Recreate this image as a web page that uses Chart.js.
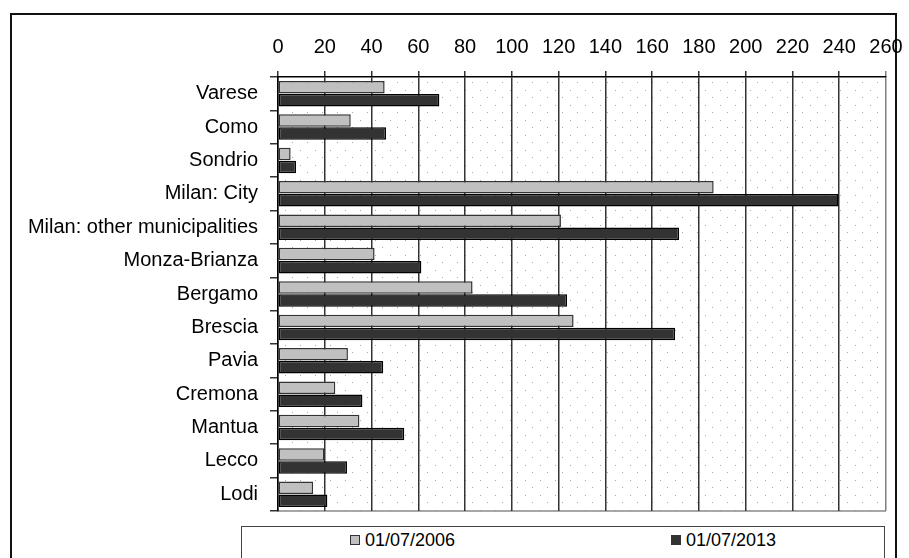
<!DOCTYPE html>
<html>
<head>
<meta charset="utf-8">
<script src="https://cdn.jsdelivr.net/npm/chart.js@4"></script>
<style>
  html, body { margin: 0; padding: 0; background: #fff; overflow: hidden; }
  #frame { position: absolute; left: 10px; top: 13px; width: 887px; height: 560px;
           border: 2px solid #111; box-sizing: border-box; }
  #wrap { position: absolute; left: 0; top: 0; width: 909px; height: 558px; }
  #legend { position: absolute; left: 241px; top: 526px; width: 644px; height: 34px;
            border: 1.5px solid #444; box-sizing: border-box; display: flex;
            justify-content: space-around; align-items: flex-start; padding-top: 3px;
            font: 18px "Liberation Sans", Arial, sans-serif; color: #000; background: #fff; }
  #legend span.sw { display: inline-block; width: 8px; height: 8px; border: 1px solid #333;
                    margin-right: 5px; vertical-align: 1px; }
</style>
</head>
<body>
<div id="frame"></div>
<div id="wrap"><canvas id="chart" width="909" height="558"></canvas></div>
<div id="legend">
  <div><span class="sw" style="background:#c0c0c0"></span>01/07/2006</div>
  <div><span class="sw" style="background:#333333"></span>01/07/2013</div>
</div>
<script>
// data
const provinces = ["Varese", "Como", "Sondrio", "Milan: City", "Milan: other municipalities",
  "Monza-Brianza", "Bergamo", "Brescia", "Pavia", "Cremona", "Mantua", "Lecco", "Lodi"];
const y2006 = [45.6, 31.1, 5.4, 186.3, 121.0, 41.3, 83.2, 126.4, 29.9, 24.5, 34.8, 19.8, 15.0];
const y2013 = [69.0, 46.2, 7.7, 239.7, 171.5, 61.3, 123.6, 169.8, 45.0, 36.1, 54.0, 29.5, 21.1];
const seriesNames = ["01/07/2006", "01/07/2013"];
const xMax = 260;
const xStep = 20;

function dotPattern() {
    const c = document.createElement('canvas');
    c.width = 15; c.height = 15;
    const g = c.getContext('2d');
    g.fillStyle = '#fff';
    g.fillRect(0, 0, 15, 15);
    g.fillStyle = '#a8a8a8';
    g.fillRect(0, 0, 1, 1);
    g.fillRect(7, 7, 1, 1);
    return g.createPattern(c, 'repeat');
}

const plotBackground = {
    id: 'plotBackground',
    beforeDraw(chart) {
        const a = chart.chartArea, ctx = chart.ctx;
        ctx.save();
        ctx.fillStyle = dotPattern();
        ctx.fillRect(a.left, a.top, a.right - a.left, a.bottom - a.top);
        ctx.strokeStyle = '#8a8a8a';
        ctx.lineWidth = 1.5;
        ctx.beginPath();
        ctx.moveTo(a.left, a.bottom);
        ctx.lineTo(a.right, a.bottom);
        ctx.stroke();
        ctx.restore();
    }
};

const font = { family: '"Liberation Sans", Arial, sans-serif', size: 20 };

new Chart(document.getElementById('chart'), {
    type: 'bar',
    data: {
        labels: provinces,
        datasets: [{
            label: seriesNames[0],
            data: y2006,
            backgroundColor: '#c0c0c0',
            borderColor: '#333',
            borderWidth: 1.5,
            borderSkipped: false
        }, {
            label: seriesNames[1],
            data: y2013,
            backgroundColor: '#333333',
            borderColor: '#000',
            borderWidth: 1.5,
            borderSkipped: false
        }]
    },
    options: {
        indexAxis: 'y',
        responsive: false,
        animation: false,
        layout: { padding: { left: 0, top: 0, right: 23, bottom: 47 } },
        datasets: { bar: { categoryPercentage: 0.78, barPercentage: 0.96 } },
        plugins: {
            legend: { display: false },
            tooltip: { enabled: false }
        },
        scales: {
            x: {
                position: 'top',
                min: 0,
                max: xMax,
                afterFit: s => { s.height = 77; s.paddingLeft = 0; s.paddingRight = 0; },
                ticks: { stepSize: xStep, color: '#000', font: font, padding: 12 },
                grid: {
                    color: ctx => ctx.tick && ctx.tick.value === xMax ? '#808080' : '#333',
                    lineWidth: 1.5,
                    tickLength: 6
                },
                border: { color: '#000', width: 1.5 }
            },
            y: {
                afterFit: s => { s.width = 278; s.paddingTop = 0; s.paddingBottom = 0; },
                ticks: { color: '#000', font: font, padding: 12 },
                grid: {
                    offset: true,
                    drawOnChartArea: false,
                    color: '#333',
                    lineWidth: 1.5,
                    tickLength: 8
                },
                border: { color: '#000', width: 1.5 }
            }
        }
    },
    plugins: [plotBackground]
});
</script>
</body>
</html>
